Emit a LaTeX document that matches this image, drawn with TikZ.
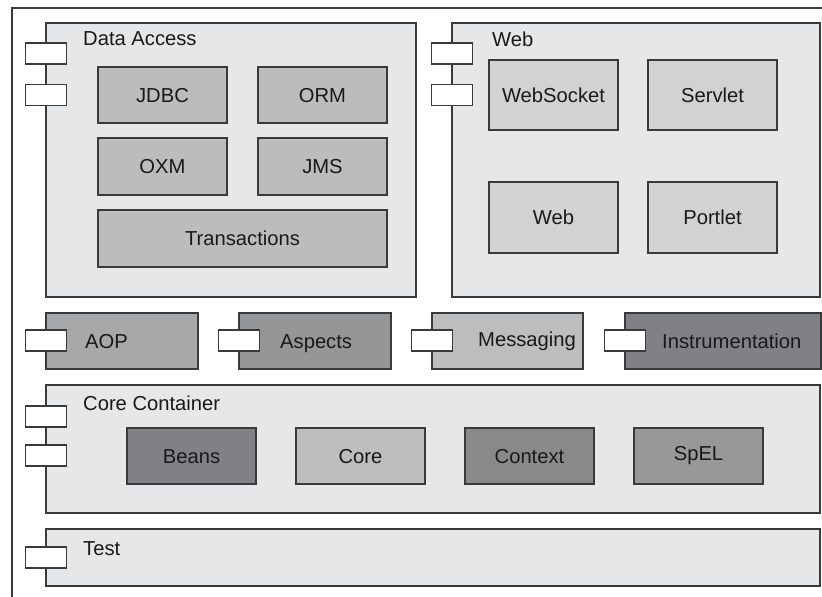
\documentclass[tikz,border=0pt]{standalone}
\usepackage{fontspec}
\setmainfont{Liberation Sans}
\definecolor{cont}{HTML}{E6E7E8}
\definecolor{dainner}{HTML}{BBBCBE}
\definecolor{webinner}{HTML}{D1D2D4}
\definecolor{aopc}{HTML}{A7A8AA}
\definecolor{aspc}{HTML}{959698}
\definecolor{msgc}{HTML}{BCBDBF}
\definecolor{insc}{HTML}{808184}
\definecolor{beanc}{HTML}{808184}
\definecolor{corec}{HTML}{BCBDBF}
\definecolor{ctxc}{HTML}{88898B}
\definecolor{spelc}{HTML}{97989A}
\definecolor{edge}{HTML}{3A3A3A}
\tikzset{
  basebox/.style={draw=edge, line width=1.1pt, rectangle, inner sep=0pt,
    font=\fontsize{20.2}{23}\selectfont, text height=14.5pt, text depth=0pt, text=black!90},
  container/.style={basebox, fill=cont},
  inner/.style={basebox},
  port/.style={draw=edge, line width=1.1pt, fill=white, rectangle, inner sep=0pt,
    minimum width=41pt, minimum height=21pt},
  lbl/.style={inner sep=0pt, anchor=west, font=\fontsize{20.2}{23}\selectfont,
    text height=14.5pt, text depth=0pt, text=black!90}
}
\begin{document}
\begin{tikzpicture}[x=1pt,y=-1pt]
\useasboundingbox (0,0) rectangle (822,597);
% outer frame (cut off by the page)
\draw[edge, line width=1.1pt] (12,640) -- (12,8) -- (860,8);

% Data Access
\node[container, minimum width=370pt, minimum height=274pt] (da) at (231,160) {};
\node[lbl] (dalbl) at (83,38) {Data Access};
\node[port] (dap1) at (46,53.5) {};
\node[port] (dap2) at (46,95) {};
\node[inner, fill=dainner, minimum width=129pt, minimum height=56pt] (jdbc) at (162.5,95) {JDBC};
\node[inner, fill=dainner, minimum width=129pt, minimum height=56pt] (orm) at (322.5,95) {ORM};
\node[inner, fill=dainner, minimum width=129pt, minimum height=57pt] (oxm) at (162.5,166.5) {OXM};
\node[inner, fill=dainner, minimum width=129pt, minimum height=57pt] (jms) at (322.5,166.5) {JMS};
\node[inner, fill=dainner, minimum width=289pt, minimum height=57pt] (trans) at (242.5,238.5) {Transactions};

% Web
\node[container, minimum width=368pt, minimum height=274pt] (web) at (636,160) {};
\node[lbl] (weblbl) at (492,39) {Web};
\node[port] (webp1) at (452,53.5) {};
\node[port] (webp2) at (452,95) {};
\node[inner, fill=webinner, minimum width=129pt, minimum height=70pt] (websocket) at (553.5,95) {WebSocket};
\node[inner, fill=webinner, minimum width=129pt, minimum height=70pt] (servlet) at (712.5,95) {Servlet};
\node[inner, fill=webinner, minimum width=129pt, minimum height=71pt] (webin) at (553.5,217.5) {Web};
\node[inner, fill=webinner, minimum width=129pt, minimum height=71pt] (portlet) at (712.5,217.5) {Portlet};

% Middle row
\node[basebox, fill=aopc, minimum width=152pt, minimum height=56pt] (aop) at (122,341) {};
\node[port] (aopp) at (46,340.5) {};
\node[lbl] (aoplbl) at (85,341) {AOP};
\node[basebox, fill=aspc, minimum width=152pt, minimum height=56pt] (asp) at (315,341) {};
\node[port] (aspp) at (239,340.5) {};
\node[lbl] (asplbl) at (280,341) {Aspects};
\node[basebox, fill=msgc, minimum width=151pt, minimum height=56pt] (msg) at (507.5,341) {};
\node[port] (msgp) at (432,340.5) {};
\node[lbl] (msglbl) at (478,339) {Messaging};
\node[basebox, fill=insc, minimum width=196pt, minimum height=56pt] (ins) at (723,341) {};
\node[port] (insp) at (625,340.5) {};
\node[lbl] (inslbl) at (662,341) {Instrumentation};

% Core Container
\node[container, minimum width=774pt, minimum height=128pt] (cc) at (433,449) {};
\node[lbl] (cclbl) at (83,403) {Core Container};
\node[port] (ccp1) at (46,416.5) {};
\node[port] (ccp2) at (46,455.5) {};
\node[inner, fill=beanc, minimum width=129pt, minimum height=56pt] (beans) at (191.5,456) {Beans};
\node[inner, fill=corec, minimum width=129pt, minimum height=56pt] (core) at (360.5,456) {Core};
\node[inner, fill=ctxc, minimum width=129pt, minimum height=56pt] (ctx) at (529.5,456) {Context};
\node[inner, fill=spelc, minimum width=129pt, minimum height=56pt] (spel) at (698.5,456) {};
\node[lbl, anchor=center] (spellbl) at (698.5,453) {SpEL};

% Test
\node[container, minimum width=774pt, minimum height=57pt] (test) at (433,557.5) {};
\node[lbl] (testlbl) at (83,548) {Test};
\node[port] (testp) at (46,557.5) {};
\end{tikzpicture}
\end{document}
